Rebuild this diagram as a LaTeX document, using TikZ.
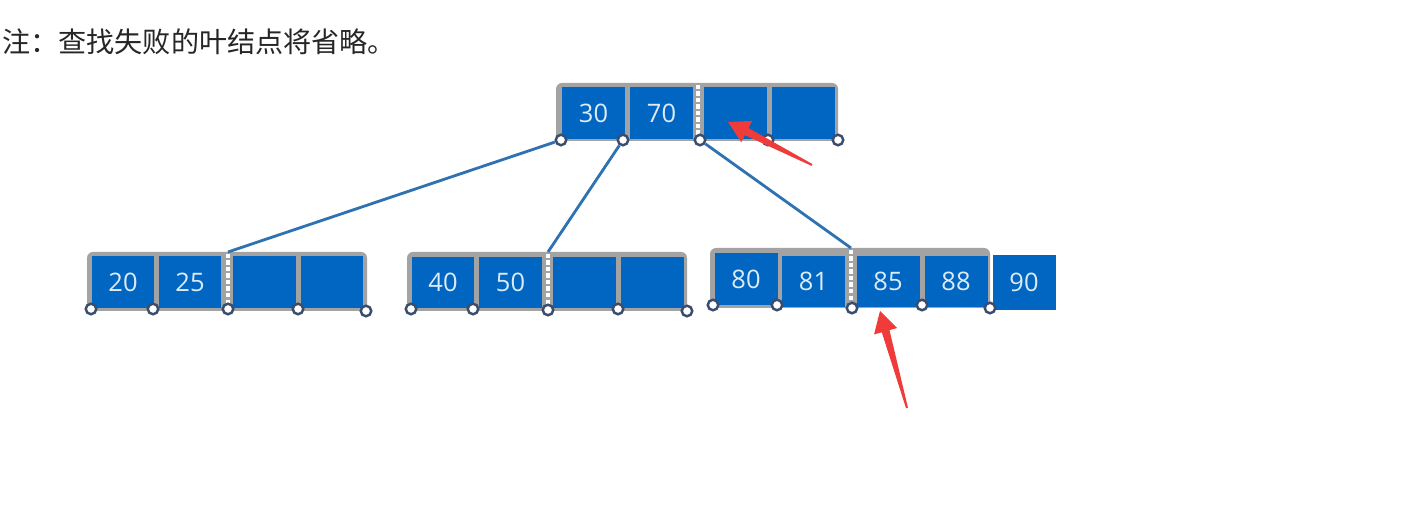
\documentclass[tikz,border=0pt]{standalone}
\usepackage{fontspec}
\newfontfamily\cjkfont{Noto Sans CJK SC}
\newfontfamily\numfont{Open Sans}
\usetikzlibrary{calc}
\definecolor{cellblue}{HTML}{0066C1}
\definecolor{framegray}{HTML}{A3A3A3}
\definecolor{digit}{HTML}{DDEBF7}
\definecolor{linkblue}{HTML}{2E72B2}
\definecolor{ringblue}{HTML}{3A4D6E}
\definecolor{arrowred}{HTML}{F03B3B}
\tikzset{
  cell/.style={fill=cellblue, minimum width=1.26cm, minimum height=1.04cm, inner sep=0pt,
    text=digit, font=\numfont\fontsize{14.5}{16}\selectfont},
  frame/.style={fill=framegray, rounded corners=0.12cm},
  sep/.style={white, line width=2pt, dash pattern=on 2.3pt off 1.4pt},
  ptr/.style={circle, draw=ringblue, fill=white, line width=1.4pt, minimum size=0.21cm, inner sep=0pt},
  link/.style={linkblue, line width=1.6pt}
}
% tapered red pointer: #1 tail, #2 tip
\newcommand{\redarrow}[2]{%
  \coordinate (headbase) at ($(#2)!0.42cm!(#1)$);
  \fill[arrowred] ($(#1)!0.02cm!90:(#2)$) -- ($(headbase)!0.08cm!90:(#2)$)
    -- ($(headbase)!0.24cm!90:(#2)$) -- (#2) -- ($(headbase)!0.24cm!-90:(#2)$)
    -- ($(headbase)!0.08cm!-90:(#2)$) -- ($(#1)!0.02cm!-90:(#2)$) -- cycle;}

\begin{document}
\begin{tikzpicture}[x=0.02cm,y=-0.02cm]
    \useasboundingbox[fill=white] (0,0) rectangle (1417,516);
    \node[anchor=west, inner sep=0pt, text=black!85, font=\cjkfont\fontsize{16}{18}\selectfont] (note) at (2,42) {注：查找失败的叶结点将省略。};

    % root
    \fill[frame] (556,83) rectangle (838,141);
    \node[cell] (r1) at (593.5,113.5) {30};
    \node[cell] (r2) at (661.5,113.5) {70};
    \node[cell] (r3) at (735.5,113.5) {};
    \node[cell] (r4) at (803.5,113.5) {};
    \draw[sep] (698,85) -- (698,139);
    \foreach \x/\n in {561/0,623/1,700/2,768/3,838/4}
        \node[ptr] (t\n) at (\x,140) {};

    % left child
    \fill[frame] (87,252) rectangle (367,311);
    \node[cell] (a1) at (123,282) {20};
    \node[cell] (a2) at (190,282) {25};
    \node[cell] (a3) at (264.5,282) {};
    \node[cell] (a4) at (332,282) {};
    \draw[sep] (228,254) -- (228,308);
    \coordinate (atop) at (228,252);
    \foreach \x/\y/\n in {91/309/0,153/309/1,228/309/2,298/309/3,366/311/4}
        \node[ptr] (ap\n) at (\x,\y) {};

    % middle child
    \fill[frame] (407,252) rectangle (687,311);
    \node[cell] (b1) at (443,282.5) {40};
    \node[cell] (b2) at (510.5,282.5) {50};
    \node[cell] (b3) at (584.5,282.5) {};
    \node[cell] (b4) at (652.5,282.5) {};
    \draw[sep] (548,254) -- (548,308);
    \coordinate (btop) at (548,252);
    \foreach \x/\y/\n in {411/309/0,473/309/1,548/310/2,618/309/3,687/311/4}
        \node[ptr] (bp\n) at (\x,\y) {};

    % right child
    \fill[frame] (710,248) rectangle (990,308);
    \node[cell, minimum height=1.03cm] (c1) at (746,279) {80};
    \node[cell] (c2) at (813.5,281.5) {81};
    \node[cell] (c3) at (888,281.5) {85};
    \node[cell] (c4) at (956,281.5) {88};
    \node[cell, minimum height=1.1cm] (c5) at (1024,282.5) {90};
    \draw[sep] (851,250) -- (851,306);
    \coordinate (ctop) at (851,248);
    \foreach \x/\y/\n in {713/305/0,777/305/1,852/308/2,922/305/3,990/308/4}
        \node[ptr] (cp\n) at (\x,\y) {};

    \draw[link] (t0) -- (atop);
    \draw[link] (t1) -- (btop);
    \draw[link] (t2) -- (ctop);

    \coordinate (m1) at (812,165);
    \coordinate (n1) at (728,122);
    \redarrow{m1}{n1}
    \coordinate (m2) at (907,408);
    \coordinate (n2) at (880,311);
    \redarrow{m2}{n2}
\end{tikzpicture}
\end{document}
